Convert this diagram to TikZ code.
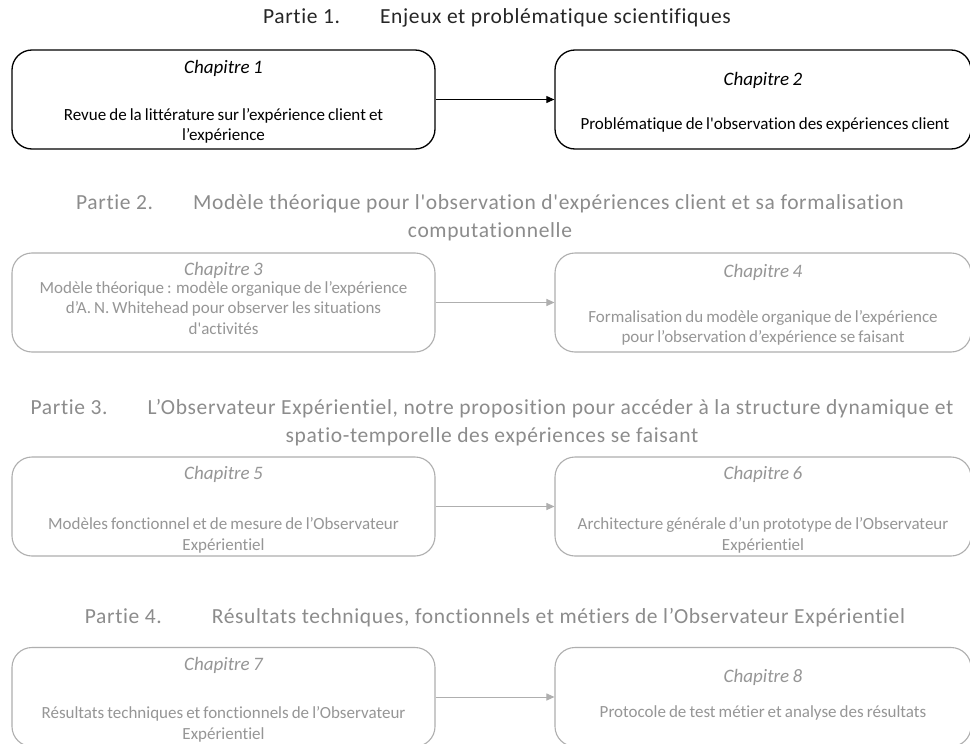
\documentclass[tikz,border=0pt]{standalone}
\usepackage{fontspec}
\setmainfont{Carlito}[Ligatures={NoCommon,TeXOff}, WordSpace=0.8]
\newfontfamily\titlefont{Carlito}[LetterSpace=3, Ligatures={NoCommon,TeXOff}]
\usetikzlibrary{arrows.meta}
\definecolor{tgray}{RGB}{140,140,140}
\definecolor{bgray}{RGB}{150,150,150}
\definecolor{lgray}{RGB}{175,175,175}
\tikzset{
  box/.style={draw, rounded corners=20pt, line width=1.3pt, minimum height=99pt, inner sep=0pt},
  gbox/.style={box, draw=lgray, line width=1.1pt},
  txt/.style={inner sep=0pt, align=center, font=\fontsize{17}{20.5}\selectfont},
  gtxt/.style={txt, text=bgray},
  chap/.style={inner sep=0pt, font=\fontsize{19}{22}\selectfont\itshape},
  gchap/.style={chap, text=bgray},
  ttl/.style={inner sep=0pt, align=center, font=\titlefont\fontsize{21.5}{28}\selectfont},
  gttl/.style={ttl, text=tgray},
  arr/.style={line width=1pt, -{Triangle[length=8pt,width=7pt]}},
  garr/.style={arr, draw=lgray, line width=1pt}
}
\begin{document}
\begin{tikzpicture}[x=1pt,y=-1pt]
\useasboundingbox[fill=white] (0,0) rectangle (970,744);
% Partie 1
\node[ttl, text=black!85] (p1) at (497,18) {Partie 1.\hspace{40pt}Enjeux et problématique scientifiques};
\node[box, minimum width=423pt] (b1) at (223.5,99.5) {};
\node[box, minimum width=416pt] (b2) at (763,99.5) {};
\node[chap] (b1a) at (223.5,68) {Chapitre 1};
\node[txt] (b1b) at (223.5,126) {Revue de la littérature sur l’expérience client et\\l’expérience};
\node[chap] (b2a) at (763,80) {Chapitre 2};
\node[txt] (b2b) at (765,125) {Problématique de l'observation des expériences client};
\draw[arr] (b1.east) -- (b2.west);
% Partie 2
\node[gttl] (p2) at (490,218) {Partie 2.\hspace{40pt}Modèle théorique pour l'observation d'expériences client et sa formalisation\\computationnelle};
\node[gbox, minimum width=423pt] (b3) at (223.5,302.5) {};
\node[gbox, minimum width=416pt] (b4) at (763,302.5) {};
\node[gchap] (b3a) at (223.5,270) {Chapitre 3};
\node[gtxt] (b3b) at (223.5,308) {Modèle théorique : modèle organique de l’expérience\\d’A. N. Whitehead pour observer les situations\\d'activités};
\node[gchap] (b4a) at (763,272) {Chapitre 4};
\node[gtxt] (b4b) at (763,328) {Formalisation du modèle organique de l’expérience\\pour l’observation d’expérience se faisant};
\draw[garr] (b3.east) -- (b4.west);
% Partie 3
\node[gttl] (p3) at (492,423) {Partie 3.\hspace{40pt}L’Observateur Expérientiel, notre proposition pour accéder à la structure dynamique et\\spatio-temporelle des expériences se faisant};
\node[gbox, minimum width=423pt] (b5) at (223.5,506.5) {};
\node[gbox, minimum width=416pt] (b6) at (763,506.5) {};
\node[gchap] (b5a) at (223.5,474) {Chapitre 5};
\node[gtxt] (b5b) at (223.5,535.5) {Modèles fonctionnel et de mesure de l’Observateur\\Expérientiel};
\node[gchap] (b6a) at (763,474) {Chapitre 6};
\node[gtxt] (b6b) at (763,535.5) {Architecture générale d’un prototype de l’Observateur\\Expérientiel};
\draw[garr] (b5.east) -- (b6.west);
% Partie 4
\node[gttl] (p4) at (495,618) {Partie 4.\hspace{50pt}Résultats techniques, fonctionnels et métiers de l’Observateur Expérientiel};
\node[gbox, minimum width=423pt] (b7) at (223.5,697) {};
\node[gbox, minimum width=416pt] (b8) at (763,697) {};
\node[gchap] (b7a) at (223.5,665) {Chapitre 7};
\node[gtxt] (b7b) at (223.5,724.5) {Résultats techniques et fonctionnels de l’Observateur\\Expérientiel};
\node[gchap] (b8a) at (763,677) {Chapitre 8};
\node[gtxt] (b8b) at (763,713) {Protocole de test métier et analyse des résultats};
\draw[garr] (b7.east) -- (b8.west);
\end{tikzpicture}
\end{document}
